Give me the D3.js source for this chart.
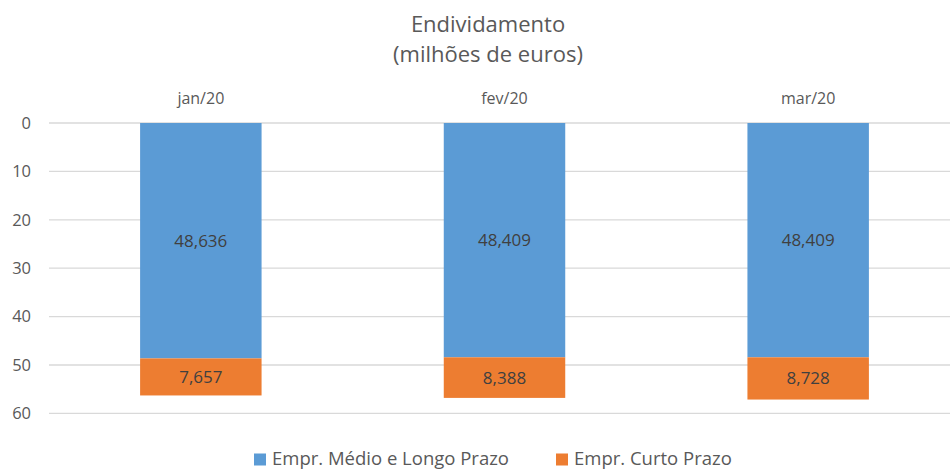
<!DOCTYPE html>
<html><head><meta charset="utf-8">
<script src="https://cdn.jsdelivr.net/npm/d3@7"></script>
<style>body{margin:0;background:#fff;} svg{display:block;font-family:"Open Sans", sans-serif;}</style>
</head><body>
<svg id="c" width="950" height="471"></svg>
<script>
const categories = ["jan/20", "fev/20", "mar/20"];
const longTerm = [48.636, 48.409, 48.409];
const shortTerm = [7.657, 8.388, 8.728];
const seriesNames = ["Empr. Médio e Longo Prazo", "Empr. Curto Prazo"];
const seriesColors = ["#5B9BD5", "#ED7D31"];
const yTicks = [0, 10, 20, 30, 40, 50, 60];
const titleLines = ["Endividamento", "(milhões de euros)"];

const svg = d3.select("#c");
const x = d3.scaleBand().domain(categories).range([49, 960]).paddingInner(0.6).paddingOuter(0.3);
const y = d3.scaleLinear().domain([0, 60]).range([123, 413.4]);

const fmt = v => d3.format(",.3f")(v).replace(".", ",");

// gridlines
svg.append("g").selectAll("line").data(yTicks).join("line")
  .attr("x1", 49).attr("x2", 950)
  .attr("y1", d => y(d)).attr("y2", d => y(d))
  .attr("stroke", "#d9d9d9").attr("stroke-width", 1.3);

// y tick labels
svg.append("g").selectAll("text").data(yTicks).join("text")
  .attr("x", 31).attr("y", d => y(d)).attr("dy", "0.35em")
  .attr("text-anchor", "end").attr("font-size", 16.5).attr("fill", "#595959")
  .text(d => d);

// category labels on top
svg.append("g").selectAll("text").data(categories).join("text")
  .attr("x", d => x(d) + x.bandwidth() / 2).attr("y", 104)
  .attr("text-anchor", "middle").attr("font-size", 16).attr("fill", "#595959")
  .text(d => d);

const stackData = categories.map((c, i) => ({cat: c, a: longTerm[i], b: shortTerm[i]}));
const stack = d3.stack().keys(["a", "b"])(stackData);

stack.forEach((layer, si) => {
  const g = svg.append("g");
  g.selectAll("rect").data(layer).join("rect")
    .attr("x", d => x(d.data.cat)).attr("width", x.bandwidth())
    .attr("y", d => y(d[0])).attr("height", d => y(d[1]) - y(d[0]))
    .attr("fill", seriesColors[si]);
  g.selectAll("text").data(layer).join("text")
    .attr("x", d => x(d.data.cat) + x.bandwidth() / 2)
    .attr("y", d => (y(d[0]) + y(d[1])) / 2).attr("dy", "0.35em")
    .attr("text-anchor", "middle").attr("font-size", 17).attr("fill", "#404040")
    .text(d => fmt(d[1] - d[0]));
});

// title
svg.append("g").selectAll("text").data(titleLines).join("text")
  .attr("x", 488).attr("y", (d, i) => 32 + i * 30)
  .attr("text-anchor", "middle").attr("font-size", 22).attr("fill", "#595959")
  .text(d => d);

// legend
const legX = [254, 556];
const lg = svg.append("g").selectAll("g").data(seriesNames).join("g")
  .attr("transform", (d, i) => `translate(${legX[i]},0)`);
lg.append("rect").attr("x", 0).attr("y", 453.5).attr("width", 12).attr("height", 12)
  .attr("fill", (d, i) => seriesColors[i]);
lg.append("text").attr("x", 18).attr("y", 465)
  .attr("font-size", 18.5).attr("fill", "#595959").text(d => d);
</script>
</body></html>
